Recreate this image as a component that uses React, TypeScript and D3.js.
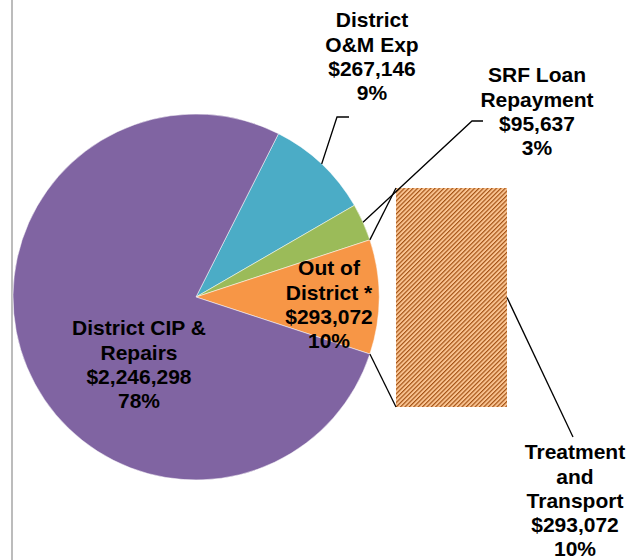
import React, { useEffect, useRef } from 'react';
import * as d3 from 'd3';

// pie slices (clockwise, starting with the teal slice)
const categories = ['District O&M Exp', 'SRF Loan Repayment', 'Out of District *', 'District CIP & Repairs'];
const values = [267146, 95637, 293072, 2246298];
const percentLabels = ['9%', '3%', '10%', '78%'];
const nameLines = [['District', 'O&M Exp'], ['SRF Loan', 'Repayment'], ['Out of', 'District *'], ['District CIP &', 'Repairs']];
const colors = ['#4BACC6', '#9BBB59', '#F79646', '#8064A2'];

// secondary bar (breakdown of "Out of District")
const barCategories = ['Treatment and Transport'];
const barValues = [293072];
const barPercentLabels = ['10%'];
const barNameLines = [['Treatment', 'and', 'Transport']];

const W = 630;
const H = 560;

const App = () => {
  const chartRef = useRef<SVGSVGElement>(null);

  useEffect(() => {
    renderChart();
  }, []);

  const renderChart = () => {
    const svg = d3.select(chartRef.current);
    svg.selectAll('*').remove();

    const cx = 196;
    const cy = 297;
    const radius = 183;
    const startDeg = 26.8;
    const start = (startDeg * Math.PI) / 180;
    const fmt = d3.format('$,');
    const fontSize = 21;
    const lineH = 24.2;

    const defs = svg.append('defs');
    const pat = defs
      .append('pattern')
      .attr('id', 'hatch')
      .attr('width', 3.1)
      .attr('height', 3.1)
      .attr('patternUnits', 'userSpaceOnUse')
      .attr('patternTransform', 'rotate(45)');
    pat.append('rect').attr('width', 3.1).attr('height', 3.1).attr('fill', '#FBC593');
    pat.append('line').attr('x1', 0.6).attr('x2', 0.6).attr('y1', 0).attr('y2', 3.1)
      .attr('stroke', '#9A4608').attr('stroke-width', 1.05);

    // left frame line
    svg.append('line')
      .attr('x1', 12).attr('x2', 12).attr('y1', 0).attr('y2', H)
      .attr('stroke', '#A6A6A6').attr('stroke-width', 1.5);

    const data = categories.map((c, i) => ({ name: c, value: values[i], i }));
    const pie = d3.pie<any>().sort(null).value(d => d.value)
      .startAngle(start).endAngle(start + 2 * Math.PI);
    const arcs = pie(data);
    const arc = d3.arc<any>().innerRadius(0).outerRadius(radius);

    const g = svg.append('g').attr('transform', `translate(${cx},${cy})`);
    g.selectAll('.slice')
      .data(arcs)
      .enter()
      .append('path')
      .attr('class', 'slice')
      .attr('d', arc)
      .attr('fill', d => colors[d.data.i])
      .attr('stroke', '#ffffff')
      .attr('stroke-width', 0.5);

    const pt = (ang: number, r: number) => [cx + r * Math.sin(ang), cy - r * Math.cos(ang)];

    // secondary bar
    const other = arcs[2];
    const barX0 = 396;
    const barX1 = 507;
    const y = d3.scaleLinear().domain([0, d3.sum(barValues)]).range([407, 188]);
    const stack = d3.cumsum(barValues);
    barValues.forEach((v, i) => {
      svg.append('rect')
        .attr('x', barX0)
        .attr('y', y(stack[i]))
        .attr('width', barX1 - barX0)
        .attr('height', y(stack[i] - v) - y(stack[i]))
        .attr('fill', 'url(#hatch)');
    });

    // connector lines pie -> bar
    const pTop = pt(other.startAngle, radius);
    const pBot = pt(other.endAngle, radius);
    const line = (pts: number[][]) =>
      svg.append('path')
        .attr('d', d3.line()(pts as [number, number][]))
        .attr('fill', 'none')
        .attr('stroke', '#000')
        .attr('stroke-width', 1.3);
    line([pTop, [barX0, y(d3.sum(barValues))]]);
    line([pBot, [barX0, y(0)]]);

    // leader lines
    const mid = (a: any) => (a.startAngle + a.endAngle) / 2;
    line([[349, 117], [337, 117], pt(mid(arcs[0]), radius)]);
    line([[483, 121], [472, 121], pt(mid(arcs[1]), radius)]);
    line([[barX1, (y(0) + y(barValues[0])) / 2], [573, 437]]);

    const label = (x: number, yTop: number, lines: string[]) => {
      const t = svg.append('text')
        .attr('text-anchor', 'middle')
        .style('font-family', 'Arial, "Liberation Sans", sans-serif')
        .style('font-weight', 'bold')
        .style('font-size', `${fontSize}px`)
        .attr('fill', '#000');
      lines.forEach((l, k) => {
        t.append('tspan').attr('x', x).attr('y', yTop + k * lineH).attr('dy', '0.35em').text(l);
      });
    };

    const labelPos = [[372, 20], [537, 75], [329, 268], [139, 328]];
    data.forEach((d, i) => {
      label(labelPos[i][0], labelPos[i][1], [...nameLines[i], fmt(d.value), percentLabels[i]]);
    });
    barCategories.forEach((c, i) => {
      label(575, 452, [...barNameLines[i], fmt(barValues[i]), barPercentLabels[i]]);
    });
  };

  return (
    <div style={{ position: 'absolute', left: 0, top: 0 }}>
      <svg ref={chartRef} width={W} height={H} style={{ display: 'block', background: '#fff' }}></svg>
    </div>
  );
};

export default App;
